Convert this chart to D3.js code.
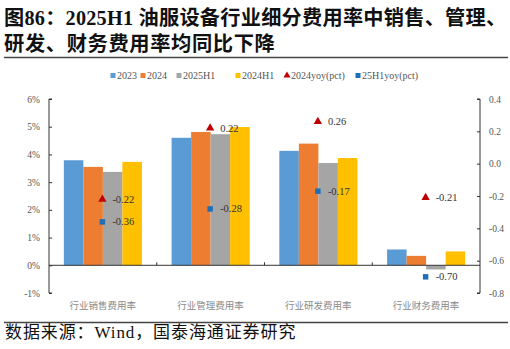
<!DOCTYPE html>
<html><head><meta charset="utf-8">
<script src="https://cdn.jsdelivr.net/npm/d3@7"></script>
<style>body{margin:0;background:#fff}svg{display:block}</style>
</head><body>
<script>
const categories = ["行业销售费用率","行业管理费用率","行业研发费用率","行业财务费用率"];
const seriesNames = ["2023","2024","2025H1","2024H1"];
const v2023 = [3.79, 4.60, 4.13, 0.57];
const v2024 = [3.55, 4.81, 4.39, 0.34];
const v2025H1 = [3.37, 4.73, 3.69, -0.15];
const v2024H1 = [3.73, 4.99, 3.87, 0.50];
const yoy2024 = [-0.22, 0.22, 0.26, -0.21];
const yoy25H1 = [-0.36, -0.28, -0.17, -0.70];
const leftTicks = [-1,0,1,2,3,4,5,6];
const rightTicks = [-0.8,-0.6,-0.4,-0.2,0.0,0.2,0.4];
const colors = ["#5B9BD5","#ED7D31","#A5A5A5","#FFC000"];
const triColor = "#C00000", sqColor = "#1F6FB8";

(function(){
const W=510,H=349;
const svg=d3.select("body").append("svg").attr("width",W).attr("height",H);
const serif="'Liberation Serif','Times New Roman',serif";
const mixed="'Liberation Serif','Noto Sans CJK SC',serif";
const cjk="'Noto Sans CJK SC','Noto Sans',sans-serif";
const hy=s=>s.replace("\u2212","-");

// title
svg.append("text").attr("x",4).attr("y",25).attr("font-family",mixed).attr("font-weight","bold")
  .attr("font-size",20.2).attr("letter-spacing",0.25).attr("fill","#111").text("图86：2025H1 油服设备行业细分费用率中销售、管理、");
svg.append("text").attr("x",4).attr("y",51).attr("font-family",mixed).attr("font-weight","bold")
  .attr("font-size",20.3).attr("letter-spacing",0.6).attr("fill","#111").text("研发、财务费用率均同比下降");
svg.append("line").attr("x1",4).attr("x2",508).attr("y1",57.5).attr("y2",57.5).attr("stroke","#444").attr("stroke-width",1.5);
svg.append("line").attr("x1",4).attr("x2",508).attr("y1",322.5).attr("y2",322.5).attr("stroke","#444").attr("stroke-width",1.5);
svg.append("text").attr("x",5).attr("y",338).attr("font-family",mixed).attr("font-size",17).attr("letter-spacing",0.9).attr("fill","#111")
  .text("数据来源：Wind，国泰海通证券研究");

const pl=49,pr=480,pt=99,pb=293;
const yL=d3.scaleLinear().domain([-1,6]).range([pb,pt]);
const yR=d3.scaleLinear().domain([-0.8,0.4]).range([pb,pt]);
const x0=d3.scaleBand().domain(categories).range([pl,pr]).padding(0);
const x1=d3.scaleBand().domain(seriesNames).range([0,x0.bandwidth()]).paddingInner(0).paddingOuter(0.76);

const data=[v2023,v2024,v2025H1,v2024H1];
const g=svg.append("g");
categories.forEach((c,i)=>{
  seriesNames.forEach((s,j)=>{
    const v=data[j][i];
    g.append("rect").attr("x",x0(c)+x1(s)).attr("width",x1.bandwidth())
      .attr("y",Math.min(yL(v),yL(0))).attr("height",Math.abs(yL(v)-yL(0)))
      .attr("fill",colors[j]);
  });
});

// baseline
svg.append("line").attr("x1",pl).attr("x2",pr).attr("y1",yL(0)).attr("y2",yL(0)).attr("stroke","#333").attr("stroke-width",1);
categories.slice(1).forEach(c=>{
  svg.append("line").attr("x1",x0(c)).attr("x2",x0(c)).attr("y1",yL(0)).attr("y2",yL(0)-3).attr("stroke","#333");
});

// left axis
const axL=svg.append("g").attr("transform",`translate(${pl},0)`)
  .call(d3.axisLeft(yL).tickValues(leftTicks).tickSize(-3).tickPadding(9).tickFormat(d=>d+"%"));
axL.selectAll("path").attr("stroke","#333");
axL.selectAll("line").attr("stroke","#333");
axL.selectAll("text").attr("font-family",serif).attr("font-size",9.5).attr("fill","#555");

const axR=svg.append("g").attr("transform",`translate(${pr},0)`)
  .call(d3.axisRight(yR).tickValues(rightTicks).tickSize(-3).tickPadding(9).tickFormat(d=>hy(d3.format(".1f")(d))));
axR.selectAll("path").attr("stroke","#333");
axR.selectAll("line").attr("stroke","#333");
axR.selectAll("text").attr("font-family",serif).attr("font-size",9.5).attr("fill","#555");
axR.select(".domain").attr("d",`M-3,${pt}H0V${pb}H-3`);
axL.select(".domain").attr("d",`M3,${pt}H0V${pb}H3`);

// category labels
categories.forEach(c=>{
  svg.append("text").attr("x",x0(c)+x0.bandwidth()/2).attr("y",309).attr("text-anchor","middle")
    .attr("font-family",cjk).attr("font-size",9.5).attr("fill","#8a8a8a").text(c);
});

// markers
const tri=d3.symbol().type(d3.symbolTriangle).size(30);
const sq=d3.symbol().type(d3.symbolSquare).size(30);
categories.forEach((c,i)=>{
  const cx=x0(c)+x0.bandwidth()/2-0.5;
  svg.append("path").attr("d",tri()).attr("transform",`translate(${cx},${yR(yoy2024[i])})`).attr("fill",triColor);
  svg.append("text").attr("x",cx+10).attr("y",yR(yoy2024[i])+3.5).attr("font-family",serif).attr("font-size",10.5)
    .attr("fill","#333").text(hy(d3.format(".2f")(yoy2024[i])));
  svg.append("path").attr("d",sq()).attr("transform",`translate(${cx},${yR(yoy25H1[i])})`).attr("fill",sqColor);
  svg.append("text").attr("x",cx+10).attr("y",yR(yoy25H1[i])+3.5).attr("font-family",serif).attr("font-size",10.5)
    .attr("fill","#333").text(hy(d3.format(".2f")(yoy25H1[i])));
});

// legend
const legend=[
  {t:"2023",x:113,c:colors[0],s:"sq"},
  {t:"2024",x:143,c:colors[1],s:"sq"},
  {t:"2025H1",x:179,c:colors[2],s:"sq"},
  {t:"2024H1",x:238,c:colors[3],s:"sq"},
  {t:"2024yoy(pct)",x:287,c:triColor,s:"tri"},
  {t:"25H1yoy(pct)",x:358,c:sqColor,s:"sq"}
];
const ly=75.5;
legend.forEach(l=>{
  if(l.s==="sq") svg.append("rect").attr("x",l.x-2.5).attr("y",ly-2.5).attr("width",5).attr("height",5).attr("fill",l.c);
  else svg.append("path").attr("d",d3.symbol().type(d3.symbolTriangle).size(22)()).attr("transform",`translate(${l.x},${ly})`).attr("fill",l.c);
  svg.append("text").attr("x",l.x+4).attr("y",ly+3.5).attr("font-family",serif).attr("font-size",10).attr("fill","#555").text(l.t);
});
})();
</script>
</body></html>
